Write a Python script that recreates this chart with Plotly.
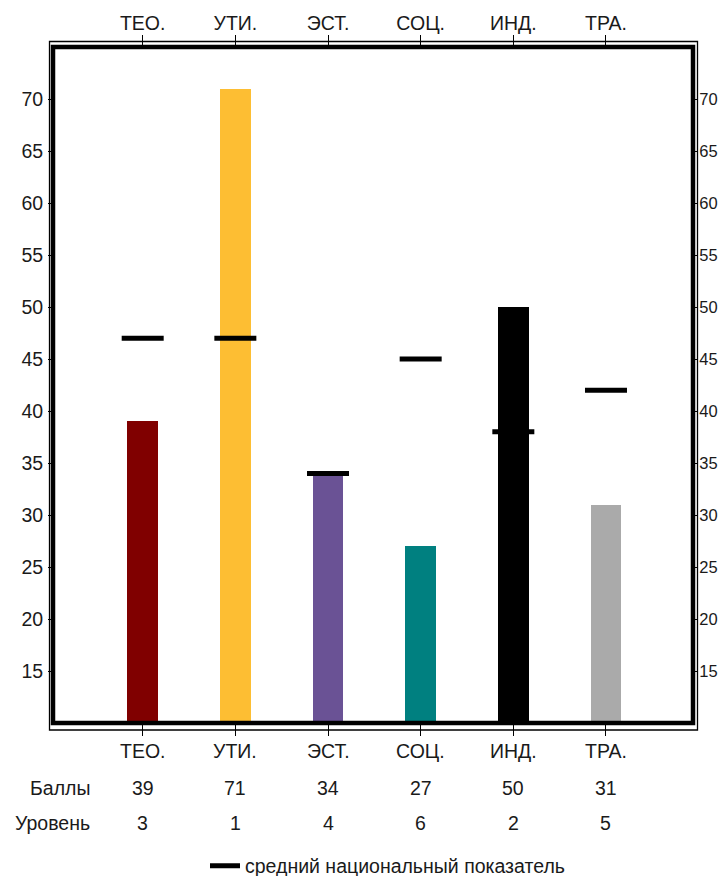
import plotly.graph_objects as go

categories = ["ТЕО.", "УТИ.", "ЭСТ.", "СОЦ.", "ИНД.", "ТРА."]
scores = [39, 71, 34, 27, 50, 31]
levels = [3, 1, 4, 6, 2, 5]
national_avg = [47, 47, 34, 45, 38, 42]
bar_colors = ["#800000", "#FDBE33", "#6A5295", "#008080", "#000000", "#AAAAAA"]
y_ticks = [15, 20, 25, 30, 35, 40, 45, 50, 55, 60, 65, 70]
row_names = ["Баллы", "Уровень"]
legend_name = "средний национальный показатель"

FONT = "Liberation Sans, Arial, sans-serif"
TXT = "#1a1a1a"
FS = 19.5

OFF = 8  # default body margin of the html page
W, H = 726 - 2 * OFF, 884 - 2 * OFF
# plot area in page (photo) coordinates
PX0, PX1, PY0, PY1 = 53, 693, 47, 723
L = PX0 - OFF
T = PY0 - OFF
R = W - (PX1 - OFF)
B = H - (PY1 - OFF)
PW, PH = PX1 - PX0, PY1 - PY0


def px_x(px):
    return (px - PX0) / PW


def px_y(py):
    return (PY1 - py) / PH


x_range = [-0.968, 5.939]
y_range = [10, 75]

fig = go.Figure()

fig.add_trace(go.Bar(
    x=categories, y=scores, marker=dict(color=bar_colors, line=dict(width=0)),
    width=0.33, showlegend=False, hoverinfo="skip",
))

fig.add_trace(go.Scatter(
    x=categories, y=national_avg, mode="markers", xaxis="x2", yaxis="y2",
    marker=dict(symbol="line-ew", size=30, line=dict(width=5, color="black")),
    showlegend=False, hoverinfo="skip",
))

fig.add_trace(go.Scatter(
    x=[None], y=[None], mode="lines", name=legend_name,
    line=dict(color="black", width=5), showlegend=True,
))

axis_font = dict(family=FONT, size=FS, color=TXT)
common = dict(showgrid=False, zeroline=False, showline=False, automargin=False,
              tickcolor="black", tickwidth=1, fixedrange=True)

fig.update_layout(
    template="none",
    width=W, height=H,
    margin=dict(l=L, r=R, t=T, b=B, pad=0, autoexpand=False),
    paper_bgcolor="white", plot_bgcolor="white",
    bargap=0,
    xaxis=dict(type="category", categoryarray=categories, range=x_range,
               showticklabels=False, ticks="outside", ticklen=12, **common),
    xaxis2=dict(type="category", categoryarray=categories, range=x_range,
                overlaying="x", side="top", ticks="outside", ticklen=11,
                tickfont=axis_font, ticklabelstandoff=-3, **common),
    yaxis=dict(range=y_range, tickvals=y_ticks, ticks="outside", ticklen=4,
               tickfont=axis_font, ticklabelstandoff=1, **common),
    yaxis2=dict(range=y_range, tickvals=y_ticks, overlaying="y", side="right",
                ticks="outside", ticklen=4,
                tickfont=dict(family=FONT, size=16.5, color=TXT),
                ticklabelstandoff=-2, **common),
    legend=dict(orientation="h", x=px_x(205), xanchor="left", y=px_y(866),
                yanchor="middle", font=dict(family=FONT, size=FS, color=TXT),
                bgcolor="rgba(0,0,0,0)", borderwidth=0),
    font=dict(family=FONT, size=FS, color=TXT),
)

# frame: thick inner line plus thin outer line
fig.add_shape(type="rect", xref="paper", yref="paper", x0=0, x1=1, y0=0, y1=1,
              line=dict(color="black", width=4.5), layer="above")
fig.add_shape(type="rect", xref="paper", yref="paper",
              x0=px_x(49.5), x1=px_x(697.5), y0=px_y(730), y1=px_y(41.5),
              line=dict(color="black", width=1.3), layer="above")

annotations = []
for c, s, lv in zip(categories, scores, levels):
    annotations.append(dict(x=c, y=px_y(751), xref="x", yref="paper", text=c,
                            showarrow=False, xanchor="center", yanchor="middle"))
    annotations.append(dict(x=c, y=px_y(788), xref="x", yref="paper", text=str(s),
                            showarrow=False, xanchor="center", yanchor="middle"))
    annotations.append(dict(x=c, y=px_y(823), xref="x", yref="paper", text=str(lv),
                            showarrow=False, xanchor="center", yanchor="middle"))
for name, py in zip(row_names, [788, 823]):
    annotations.append(dict(x=px_x(92), y=px_y(py), xref="paper", yref="paper",
                            text=name, showarrow=False, xanchor="right",
                            yanchor="middle"))
fig.update_layout(annotations=annotations)
fig.update_annotations(font=dict(family=FONT, size=FS, color=TXT))

fig.write_html("out.html")
